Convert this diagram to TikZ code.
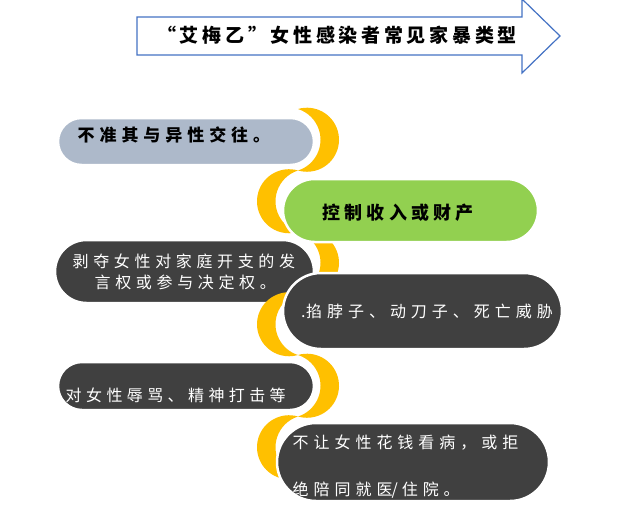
\documentclass[tikz,border=0pt]{standalone}
\usepackage{fontspec}
\newfontfamily\cjk{Noto Sans CJK SC}
\definecolor{yel}{HTML}{FFC000}
\definecolor{darkp}{HTML}{404040}
\definecolor{greenp}{HTML}{92D050}
\definecolor{greyp}{HTML}{ADB9CA}
\definecolor{arrowc}{HTML}{4472C4}
\newcommand{\tf}[2]{\cjk\fontsize{#1}{#1}\selectfont\addfontfeature{LetterSpace=#2}}
\newcommand{\crescR}[1]{\fill[cres] (298,-#1) arc[start angle=106.26,end angle=-106.26,radius=32.03] arc[start angle=-72.39,end angle=72.39,radius=32.26] -- cycle;}
\newcommand{\crescL}[1]{\fill[cres] (298,-#1) arc[start angle=73.74,end angle=286.26,radius=32.03] arc[start angle=252.39,end angle=107.61,radius=32.26] -- cycle;}
\tikzset{
  cres/.style={fill=yel},
  pill/.style={draw=white, line width=2.5pt},
  blacktxt/.style={text=black, inner sep=0pt, anchor=base west},
  whitetxt/.style={text=white, inner sep=0pt, anchor=base west},
}
\begin{document}
\begin{tikzpicture}[x=1pt,y=1pt]
\clip (0,0) rectangle (636,-517);
\fill[white] (0,0) rectangle (636,-517);
% title arrow
\draw[arrowc, line width=1.2pt, fill=white, line join=miter]
  (137,-17) -- (522,-17) -- (522,1) -- (560,-36) -- (522,-73) -- (522,-55) -- (137,-55) -- cycle;
\node[blacktxt] (title) at (157,-42.8) {\tf{19}{19.5}\bfseries “艾梅乙”女性感染者常见家暴类型};
% crescents and pills
\crescR{109}
\fill[pill, fill=greyp, rounded corners=23.5pt] (58,-118) rectangle (314,-165);
\crescL{170.5}
\crescR{232}
\fill[pill, fill=greenp, rounded corners=31.5pt] (283,-179) rectangle (538,-242);
\fill[pill, fill=darkp, rounded corners=31.5pt] (55,-240) rectangle (314,-303);
\crescL{293.5}
\fill[pill, fill=darkp, rounded corners=38pt] (283,-273) rectangle (562,-349);
\crescR{355}
\fill[pill, fill=darkp, rounded corners=24pt] (58,-362) rectangle (314,-410);
\crescL{416.5}
\fill[pill, fill=darkp, rounded corners=39pt] (277,-423) rectangle (549,-501);
% texts
\node[blacktxt] (t1) at (77.5,-141.1) {\tf{17}{29}\bfseries 不准其与异性交往。};
\node[blacktxt] (t2) at (322.5,-219.3) {\tf{18}{23}\bfseries 控制收入或财产};
\node[whitetxt] (t3a) at (72.5,-267.8) {\tf{16}{29}剥夺女性对家庭开支的发};
\node[whitetxt] (t3b) at (94.5,-288.8) {\tf{16}{29}言权或参与决定权。};
\node[whitetxt] (t4) at (301,-317.8) {\tf{16}{31}\rlap{.}\hspace{5pt}掐脖子、动刀子、死亡威胁};
\node[whitetxt] (t5) at (65.5,-401.8) {\tf{16}{27.5}对女性辱骂、精神打击等};
\node[whitetxt] (t6a) at (292.5,-448.8) {\tf{16}{31}不让女性花钱看病，或拒};
\node[whitetxt] (t6b) at (292.5,-495.8) {\tf{16}{31}绝陪同就医\hspace{-1pt}{\addfontfeature{LetterSpace=0}/}\hspace{4pt}住院。};
\end{tikzpicture}
\end{document}
